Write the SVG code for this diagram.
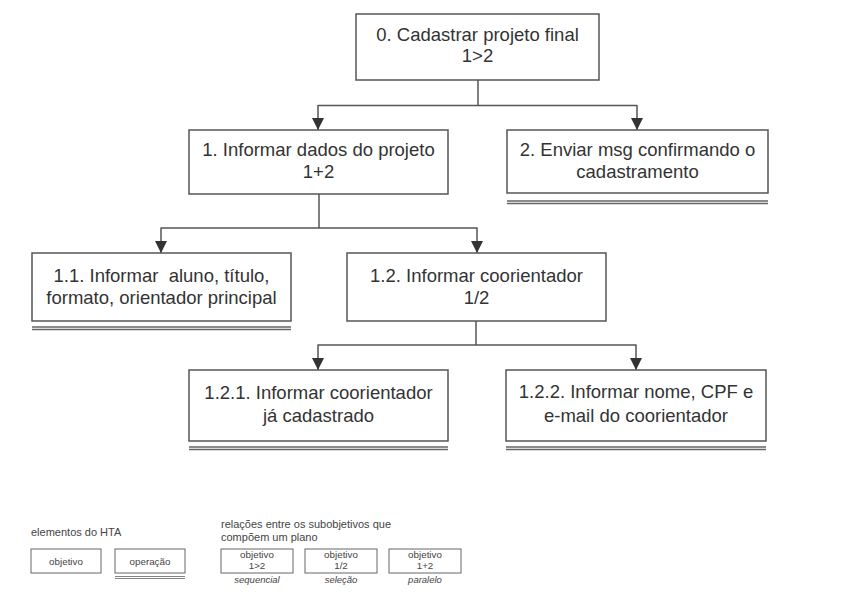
<svg xmlns="http://www.w3.org/2000/svg" width="841" height="593" viewBox="0 0 841 593">
<style>
.box{fill:#fff;stroke:#555;stroke-width:1.5}
.ul{stroke:#666;stroke-width:1.3;fill:none}
.t{font-family:"Liberation Sans",Arial,sans-serif;font-size:18.5px;fill:#333;text-anchor:middle}
.c{stroke:#555;stroke-width:1.5;fill:none}
.lb{fill:#fff;stroke:#666;stroke-width:1}
.lt{font-family:"Liberation Sans",Arial,sans-serif;font-size:9.8px;fill:#444;text-anchor:middle}
.lh{font-family:"Liberation Sans",Arial,sans-serif;font-size:11px;fill:#444}
.li{font-family:"Liberation Sans",Arial,sans-serif;font-size:9.5px;fill:#444;text-anchor:middle;font-style:italic}
</style>
<defs>
<marker id="arr" viewBox="0 0 12 12" refX="12" refY="6" markerWidth="12" markerHeight="12" markerUnits="userSpaceOnUse" orient="auto">
<path d="M0,0 L12,6 L0,12 z" fill="#333"/>
</marker>
</defs>
<rect width="841" height="593" fill="#fff"/>
<g id="connectors">
<path class="c" d="M478,80 V105.5 M318,105.5 H637"/>
<path class="c" d="M318,105 V130" marker-end="url(#arr)"/>
<path class="c" d="M637,105 V130" marker-end="url(#arr)"/>
<path class="c" d="M319,194 V228 M161,228 H477"/>
<path class="c" d="M161,227.5 V253" marker-end="url(#arr)"/>
<path class="c" d="M477,227.5 V253" marker-end="url(#arr)"/>
<path class="c" d="M476,321 V345 M318,345 H636"/>
<path class="c" d="M318,344.5 V370" marker-end="url(#arr)"/>
<path class="c" d="M636,344.5 V370" marker-end="url(#arr)"/>
</g>
<g id="n0">
<rect class="box" x="356" y="14" width="243" height="66"/>
<text class="t" x="477.5" y="41">0. Cadastrar projeto final</text>
<text class="t" x="477.5" y="62">1&gt;2</text>
</g>
<g id="n1">
<rect class="box" x="189" y="130" width="259" height="64"/>
<text class="t" x="318.5" y="156">1. Informar dados do projeto</text>
<text class="t" x="318.5" y="178">1+2</text>
</g>
<g id="n2">
<rect class="box" x="507" y="130" width="261" height="63"/>
<text class="t" x="637.5" y="156">2. Enviar msg confirmando o</text>
<text class="t" x="637.5" y="178">cadastramento</text>
<path class="ul" d="M507,201 H768 M507,203.5 H768"/>
</g>
<g id="n11">
<rect class="box" x="32" y="253" width="259" height="68"/>
<text class="t" x="161.5" y="282">1.1. Informar&#160; aluno, título,</text>
<text class="t" x="161.5" y="304">formato, orientador principal</text>
<path class="ul" d="M32,327 H291 M32,329.5 H291"/>
</g>
<g id="n12">
<rect class="box" x="347" y="253" width="259" height="68"/>
<text class="t" x="476.5" y="282">1.2. Informar coorientador</text>
<text class="t" x="476.5" y="304">1/2</text>
</g>
<g id="n121">
<rect class="box" x="189" y="370" width="259" height="71"/>
<text class="t" x="318.5" y="399">1.2.1. Informar coorientador</text>
<text class="t" x="318.5" y="422">já cadastrado</text>
<path class="ul" d="M189,447 H448 M189,449.5 H448"/>
</g>
<g id="n122">
<rect class="box" x="506" y="370" width="260" height="71"/>
<text class="t" x="636" y="398">1.2.2. Informar nome, CPF e</text>
<text class="t" x="636" y="422">e-mail do coorientador</text>
<path class="ul" d="M506,447 H766 M506,449.5 H766"/>
</g>
<g id="legend">
<text class="lh" x="31" y="536">elementos do HTA</text>
<rect class="lb" x="31" y="549" width="70" height="24"/>
<text class="lt" x="66" y="565">objetivo</text>
<rect class="lb" x="115" y="549" width="70" height="24"/>
<text class="lt" x="150" y="565">operação</text>
<path class="ul" d="M115,576.5 H185 M115,578.5 H185" style="stroke-width:0.8"/>
<text class="lh" x="221" y="528">relações entre os subobjetivos que</text>
<text class="lh" x="221" y="541">compõem um plano</text>
<rect class="lb" x="221" y="549" width="72" height="24"/>
<text class="lt" x="257" y="558">objetivo</text>
<text class="lt" x="257" y="569">1&gt;2</text>
<text class="li" x="257" y="583">sequencial</text>
<rect class="lb" x="305" y="549" width="72" height="24"/>
<text class="lt" x="341" y="558">objetivo</text>
<text class="lt" x="341" y="569">1/2</text>
<text class="li" x="341" y="583">seleção</text>
<rect class="lb" x="389" y="549" width="72" height="24"/>
<text class="lt" x="425" y="558">objetivo</text>
<text class="lt" x="425" y="569">1+2</text>
<text class="li" x="425" y="583">paralelo</text>
</g>
</svg>
